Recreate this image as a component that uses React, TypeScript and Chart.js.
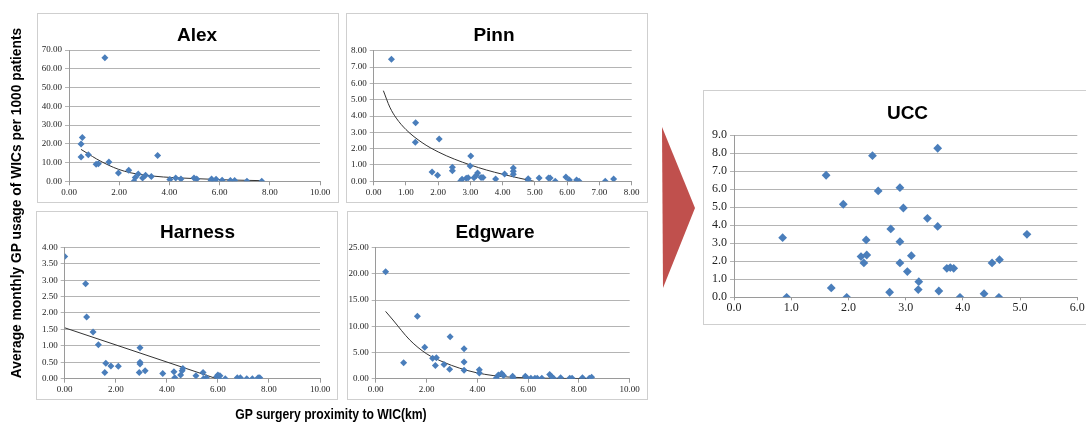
import React, { useEffect, useRef } from "react";
import { Chart, registerables } from "chart.js";
Chart.register(...registerables);

// ---------- data ----------
const alexX = [0.48, 0.53, 0.48, 0.77, 1.43, 1.08, 1.17, 1.59, 1.97, 2.38, 2.59, 2.64, 2.76, 2.93, 3.05, 3.28, 3.53, 4.02, 4.25, 4.46, 4.98, 5.09, 5.66, 5.68, 5.83, 5.86, 6.10, 6.43, 6.60, 7.09, 7.68];
const alexY = [19.9, 23.4, 13.0, 14.2, 65.9, 9.1, 9.4, 10.3, 4.4, 5.9, 0.0, 2.0, 3.9, 1.8, 3.2, 2.5, 13.7, 0.9, 1.8, 1.2, 1.8, 1.2, 0.4, 1.2, 0.0, 1.1, 0.5, 0.4, 0.4, 0.0, 0.0];
const alexTrendX = [0.48, 0.77, 1.10, 1.59, 1.97, 2.43, 2.96, 3.76, 4.42, 5.09, 6.41, 7.68];
const alexTrendY = [17.0, 14.6, 11.9, 8.5, 6.4, 4.6, 3.4, 2.3, 1.8, 1.4, 0.7, 0.35];

const pinnX = [0.55, 1.30, 1.29, 2.03, 1.81, 1.98, 2.44, 2.44, 2.69, 2.74, 2.87, 2.93, 3.01, 2.99, 3.11, 3.22, 3.18, 3.33, 3.39, 3.78, 4.06, 4.33, 4.33, 4.33, 4.79, 4.79, 5.13, 5.42, 5.47, 5.63, 5.96, 6.07, 6.29, 6.37, 7.18, 7.44];
const pinnY = [7.47, 3.59, 2.39, 2.59, 0.57, 0.37, 0.86, 0.65, 0.0, 0.12, 0.18, 0.22, 1.55, 0.94, 0.22, 0.51, 0.35, 0.24, 0.24, 0.14, 0.45, 0.82, 0.61, 0.43, 0.16, 0.04, 0.20, 0.20, 0.20, 0.0, 0.27, 0.08, 0.08, 0.0, 0.0, 0.14];
const pinnTrendX = [0.3, 0.5, 0.7, 1.0, 1.5, 2.0, 2.5, 3.0, 3.5, 4.0, 4.5, 4.97];
const pinnTrendY = [5.55, 4.54, 3.87, 3.17, 2.37, 1.80, 1.36, 1.0, 0.69, 0.43, 0.20, 0.0];

const harnX = [0.00, 0.82, 0.86, 1.11, 1.32, 1.61, 1.57, 1.81, 2.10, 2.95, 2.95, 2.95, 2.92, 3.15, 3.84, 4.28, 4.31, 4.54, 4.60, 4.63, 5.14, 5.42, 5.44, 5.55, 5.95, 6.00, 6.04, 6.08, 6.29, 6.76, 6.88, 7.13, 7.35, 7.58, 7.64];
const harnY = [3.72, 2.89, 1.88, 1.42, 1.03, 0.47, 0.19, 0.39, 0.38, 0.94, 0.50, 0.45, 0.19, 0.24, 0.16, 0.21, 0.03, 0.11, 0.24, 0.31, 0.09, 0.19, 0.00, 0.03, 0.06, 0.11, 0.00, 0.09, 0.00, 0.03, 0.03, 0.00, 0.00, 0.03, 0.03];
const harnTrendX = [0.0, 5.95];
const harnTrendY = [1.55, 0.0];

const edgX = [0.39, 1.10, 1.64, 1.93, 2.24, 2.39, 2.35, 2.69, 2.93, 2.91, 3.48, 3.48, 3.48, 4.08, 4.08, 4.74, 4.83, 4.96, 5.03, 5.39, 5.41, 5.89, 5.94, 6.11, 6.27, 6.36, 6.54, 6.85, 6.92, 7.00, 7.28, 7.64, 7.73, 8.14, 8.41, 8.50];
const edgY = [20.4, 3.05, 11.9, 6.0, 3.9, 4.0, 2.5, 2.7, 8.0, 1.8, 5.7, 3.2, 1.6, 1.7, 1.1, 0.1, 0.7, 1.0, 0.6, 0.45, 0.1, 0.45, 0.2, 0.1, 0.1, 0.1, 0.1, 0.8, 0.4, 0.1, 0.2, 0.1, 0.1, 0.2, 0.1, 0.3];
const edgTrendX = [0.39, 0.68, 1.34, 1.99, 2.65, 3.31, 3.96, 4.62, 5.28, 6.60, 8.40];
const edgTrendY = [12.85, 11.2, 7.4, 4.8, 3.2, 2.0, 1.15, 0.6, 0.3, 0.1, 0.03];

const uccX = [0.85, 0.92, 1.61, 1.70, 1.91, 1.97, 2.22, 2.27, 2.31, 2.32, 2.42, 2.52, 2.72, 2.74, 2.90, 2.90, 2.90, 2.96, 3.03, 3.10, 3.22, 3.23, 3.38, 3.56, 3.56, 3.58, 3.72, 3.78, 3.84, 3.95, 4.37, 4.51, 4.64, 4.63, 5.12];
const uccY = [3.31, 0.0, 6.78, 0.52, 5.17, 0.0, 2.26, 1.91, 3.19, 2.35, 7.87, 5.91, 0.28, 3.80, 6.09, 3.09, 1.91, 4.96, 1.43, 2.31, 0.43, 0.87, 4.39, 8.28, 3.94, 0.35, 1.61, 1.65, 1.61, 0.0, 0.2, 1.91, 2.09, 0.0, 3.5];

// tick labels
const alexXTicks = [0, 2, 4, 6, 8, 10];
const alexYTicks = [0, 10, 20, 30, 40, 50, 60, 70];
const pinnXTicks = [0, 1, 2, 3, 4, 5, 6, 7, 8];
const pinnYTicks = [0, 1, 2, 3, 4, 5, 6, 7, 8];
const harnXTicks = [0, 2, 4, 6, 8, 10];
const harnYTicks = [0, 0.5, 1, 1.5, 2, 2.5, 3, 3.5, 4];
const edgXTicks = [0, 2, 4, 6, 8, 10];
const edgYTicks = [0, 5, 10, 15, 20, 25];
const uccXTicks = [0, 1, 2, 3, 4, 5, 6];
const uccYTicks = [0, 1, 2, 3, 4, 5, 6, 7, 8, 9];

const titles = ["Alex", "Pinn", "Harness", "Edgware", "UCC"];
const yAxisTitle = "Average monthly GP usage of WICs per 1000 patients";
const xAxisTitle = "GP surgery proximity to WIC(km)";

// ---------- styles ----------
const BLUE = "#4a7ebb";
const GRID = "#b4b4b4";
const AXIS = "#9a9a9a";
const TICK_COLOR = "#222222";
const TREND = "#333333";
const BORDER = "#cfcfcf";

type PanelSpec = {
  title: string;
  xs: number[]; ys: number[];
  tx?: number[]; ty?: number[];
  xTicks: number[]; yTicks: number[];
  dec: number;
  box: { left: number; top: number; width: number; height: number };
  titlePos: { x: number; y: number };
  yW: number; padR: number; padT: number; xH: number;
  fontSize: number; r: number;
};

const panels: PanelSpec[] = [
  {
    title: titles[0], xs: alexX, ys: alexY, tx: alexTrendX, ty: alexTrendY,
    xTicks: alexXTicks, yTicks: alexYTicks, dec: 2,
    box: { left: 37, top: 13, width: 302, height: 190 },
    titlePos: { x: 197, y: 34 },
    yW: 31, padR: 18, padT: 36, xH: 20.7, fontSize: 9, r: 3.5,
  },
  {
    title: titles[1], xs: pinnX, ys: pinnY, tx: pinnTrendX, ty: pinnTrendY,
    xTicks: pinnXTicks, yTicks: pinnYTicks, dec: 2,
    box: { left: 346, top: 13, width: 302, height: 190 },
    titlePos: { x: 494, y: 34 },
    yW: 26.7, padR: 15.3, padT: 36.7, xH: 20.7, fontSize: 9, r: 3.5,
  },
  {
    title: titles[2], xs: harnX, ys: harnY, tx: harnTrendX, ty: harnTrendY,
    xTicks: harnXTicks, yTicks: harnYTicks, dec: 2,
    box: { left: 36, top: 211, width: 302, height: 189 },
    titlePos: { x: 197.5, y: 230.5 },
    yW: 27.7, padR: 17, padT: 35.3, xH: 20.3, fontSize: 9, r: 3.5,
  },
  {
    title: titles[3], xs: edgX, ys: edgY, tx: edgTrendX, ty: edgTrendY,
    xTicks: edgXTicks, yTicks: edgYTicks, dec: 2,
    box: { left: 347, top: 211, width: 301, height: 189 },
    titlePos: { x: 495, y: 230.5 },
    yW: 27.7, padR: 17.3, padT: 35.7, xH: 20.3, fontSize: 9, r: 3.5,
  },
  {
    title: titles[4], xs: uccX, ys: uccY,
    xTicks: uccXTicks, yTicks: uccYTicks, dec: 1,
    box: { left: 703, top: 90, width: 400, height: 235 },
    titlePos: { x: 907.5, y: 112.3 },
    yW: 30, padR: 8.7, padT: 44.3, xH: 26.7, fontSize: 12, r: 4.4,
  },
];

function Panel({ spec }: { spec: PanelSpec }) {
  const ref = useRef<HTMLCanvasElement>(null);
  const cw = Math.min(spec.box.width - 2, 1086 - spec.box.left - 1);
  const ch = spec.box.height - 2;
  useEffect(() => {
    const canvas = ref.current;
    if (!canvas) return;
    const tickFont = { family: "'Liberation Serif', serif", size: spec.fontSize };
    const datasets: any[] = [
      {
        data: spec.xs.map((x, i) => ({ x, y: spec.ys[i] })),
        pointStyle: "rectRot",
        pointRadius: spec.r,
        pointHoverRadius: spec.r,
        backgroundColor: BLUE,
        borderColor: BLUE,
        borderWidth: 0,
      },
    ];
    if (spec.tx && spec.ty) {
      const ty = spec.ty;
      datasets.push({
        data: spec.tx.map((x, i) => ({ x, y: ty[i] })),
        showLine: true,
        pointRadius: 0,
        pointHoverRadius: 0,
        borderColor: TREND,
        borderWidth: 1,
        tension: 0.4,
        cubicInterpolationMode: "monotone",
        fill: false,
      });
    }
    const xt = spec.xTicks, yt = spec.yTicks;
    const chart = new Chart(canvas, {
      type: "scatter",
      data: { datasets },
      options: {
        responsive: false,
        animation: false,
        devicePixelRatio: 1,
        layout: { padding: { left: 0, top: spec.padT, right: spec.padR, bottom: 0 } },
        plugins: {
          legend: { display: false },
          tooltip: { enabled: false },
          title: { display: false },
        },
        events: [],
        scales: {
          x: {
            type: "linear",
            min: xt[0],
            max: xt[xt.length - 1],
            ticks: {
              stepSize: xt[1] - xt[0],
              callback: (v: any) => Number(v).toFixed(spec.dec),
              font: tickFont,
              color: TICK_COLOR,
              padding: spec.dec === 1 ? 0 : 2,
              maxRotation: 0,
              autoSkip: false,
            },
            grid: {
              display: true,
              drawOnChartArea: false,
              drawTicks: true,
              tickLength: spec.dec === 1 ? 3 : 4,
              color: AXIS,
            },
            border: { display: true, color: AXIS },
            afterFit: (s: any) => { s.height = spec.xH; },
          },
          y: {
            type: "linear",
            min: yt[0],
            max: yt[yt.length - 1],
            ticks: {
              stepSize: yt[1] - yt[0],
              callback: (v: any) => Number(v).toFixed(spec.dec),
              font: tickFont,
              color: TICK_COLOR,
              padding: 3,
              autoSkip: false,
            },
            grid: { color: GRID, tickLength: 4, drawTicks: true },
            border: { display: true, color: AXIS },
            afterFit: (s: any) => { s.width = spec.yW; },
          },
        },
      } as any,
    });
    return () => chart.destroy();
  }, []);
  return (
    <>
      <div
        style={{
          position: "absolute",
          left: spec.box.left,
          top: spec.box.top,
          width: spec.box.width,
          height: spec.box.height,
          border: `1px solid ${BORDER}`,
          boxSizing: "border-box",
          background: "#fff",
        }}
      >
        <canvas
          ref={ref}
          width={cw}
          height={ch}
          style={{ position: "absolute", left: 0, top: 0, width: cw, height: ch }}
        />
      </div>
      <div
        style={{
          position: "absolute",
          left: spec.titlePos.x,
          top: spec.titlePos.y,
          transform: "translate(-50%, -50%)",
          font: "bold 19px 'Liberation Sans', Arial, sans-serif",
          lineHeight: "19px",
          color: "#000",
          whiteSpace: "nowrap",
        }}
      >
        {spec.title}
      </div>
    </>
  );
}

export default function App() {
  return (
    <div
      style={{
        position: "fixed",
        left: 0,
        top: 0,
        width: 1086,
        height: 423,
        overflow: "hidden",
        background: "#fff",
      }}
    >
      {panels.map((p) => (
        <Panel key={p.title} spec={p} />
      ))}
      <svg
        width={1086}
        height={423}
        style={{ position: "absolute", left: 0, top: 0, pointerEvents: "none" }}
      >
        <polygon points="662,127 695,208 663,288" fill="#c0504d" />
      </svg>
      <div
        style={{
          position: "absolute",
          left: 17,
          top: 203,
          transform: "translate(-50%, -50%) rotate(-90deg)",
          font: "bold 13.8px 'Liberation Sans', Arial, sans-serif",
          lineHeight: "14px",
          whiteSpace: "nowrap",
          color: "#000",
        }}
      >
        {yAxisTitle}
      </div>
      <div
        style={{
          position: "absolute",
          left: 331,
          top: 414,
          transform: "translate(-50%, -50%) scaleX(0.84)",
          font: "bold 14.5px 'Liberation Sans', Arial, sans-serif",
          lineHeight: "15px",
          whiteSpace: "nowrap",
          color: "#000",
        }}
      >
        {xAxisTitle}
      </div>
    </div>
  );
}
